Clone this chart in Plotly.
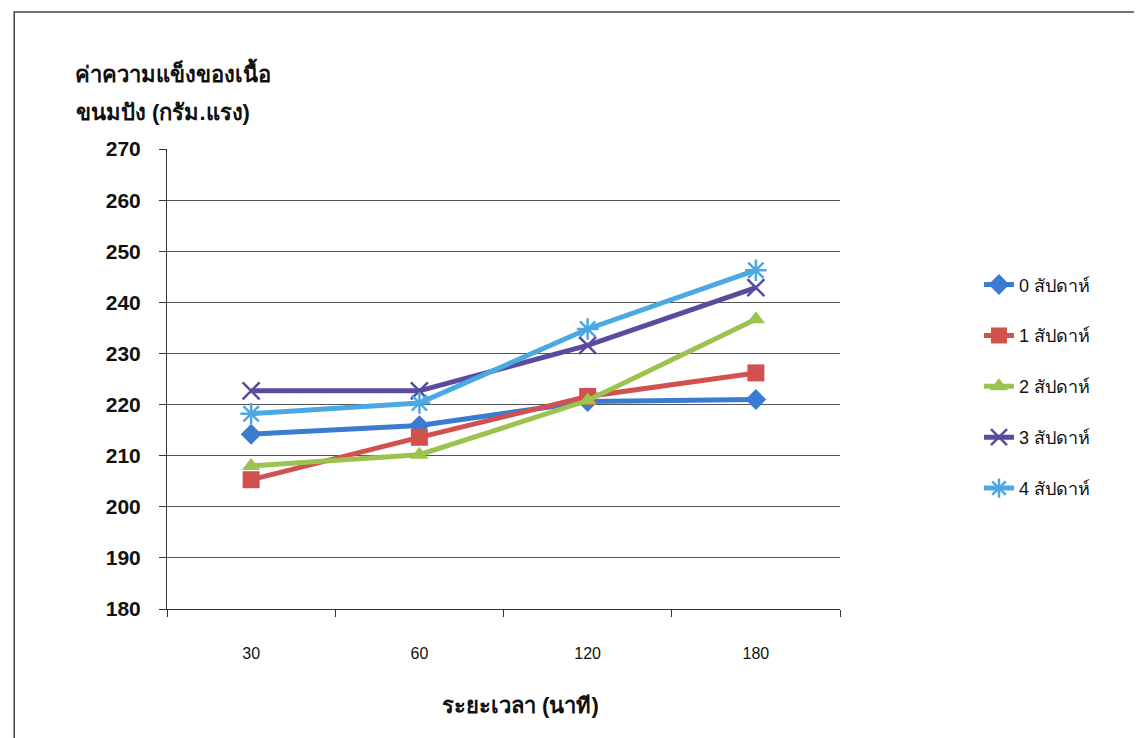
import plotly.graph_objects as go

categories = ["30", "60", "120", "180"]
series_names = ["0 สัปดาห์", "1 สัปดาห์", "2 สัปดาห์", "3 สัปดาห์", "4 สัปดาห์"]
week0 = [214.2, 215.9, 220.6, 221.0]
week1 = [205.3, 213.6, 221.6, 226.2]
week2 = [208.0, 210.2, 220.8, 236.7]
week3 = [222.7, 222.7, 231.6, 242.9]
week4 = [218.2, 220.3, 234.8, 246.3]
y_ticks = [180, 190, 200, 210, 220, 230, 240, 250, 260, 270]
y_tick_labels = [f"<b>{v}</b>" for v in y_ticks]

series_values = [week0, week1, week2, week3, week4]
colors = ["#3b7bd0", "#d2504d", "#9cc24f", "#5b4b9e", "#4aa9e2"]
symbols = ["diamond", "square", "triangle-up", "x-thin-open", "asterisk-open"]
sizes = [16, 17, 16, 17, 18]

FONT = "Liberation Sans, Tahoma, Noto Sans, DejaVu Sans, sans-serif"

fig = go.Figure()
for i, (name, vals) in enumerate(zip(series_names, series_values)):
    marker = dict(symbol=symbols[i], size=sizes[i], color=colors[i])
    if "open" in symbols[i]:
        marker["line"] = dict(color=colors[i], width=2.5)
    fig.add_trace(go.Scatter(
        x=categories, y=vals, name=name, mode="lines+markers",
        line=dict(color=colors[i], width=5),
        marker=marker, legendgroup=name,
    ))

fig.update_layout(
    width=1142, height=738,
    paper_bgcolor="white", plot_bgcolor="white",
    margin=dict(l=159, r=310, t=141, b=137, autoexpand=False),
    font=dict(family=FONT, color="#111111"),
    showlegend=True,
    legend=dict(
        x=1.2065, y=0.745, xanchor="left", yanchor="top",
        font=dict(size=18, family=FONT),
        tracegroupgap=24.5, traceorder="grouped",
    ),
    xaxis=dict(
        type="category", showgrid=False, showline=True, linecolor="#333333", linewidth=1,
        ticks="outside", ticklen=7, tickcolor="#333333", tickson="boundaries",
        tickfont=dict(size=16), ticklabelstandoff=30,
        range=[-0.5, 3.5],
    ),
    yaxis=dict(
        range=[180, 270.02], tickvals=y_ticks, ticktext=y_tick_labels,
        showgrid=True, gridcolor="#555555", gridwidth=1,
        showline=True, linecolor="#333333", linewidth=1, ticks="outside", ticklen=7,
        tickcolor="#333333", tickfont=dict(size=21),
        ticklabelstandoff=14, zeroline=False,
    ),
    annotations=[
        dict(text="<b>ค่าความแข็งของเนื้อ</b>", xref="paper", yref="paper",
             x=0.009, y=1.167, xanchor="center", yanchor="middle", showarrow=False,
             font=dict(size=22)),
        dict(text="<b>ขนมปัง (กรัม.แรง)</b>", xref="paper", yref="paper",
             x=-0.006, y=1.080, xanchor="center", yanchor="middle", showarrow=False,
             font=dict(size=22)),
        dict(text="<b>ระยะเวลา (นาที)</b>", xref="paper", yref="paper",
             x=0.526, y=-0.2087, xanchor="center", yanchor="middle", showarrow=False,
             font=dict(size=22)),
    ],
    shapes=[
        dict(type="rect", xref="paper", yref="paper", x0=-0.227, y0=-0.5, x1=1.6, y1=1.298,
             line=dict(color="#444444", width=1.5), fillcolor="rgba(0,0,0,0)", layer="below"),
    ],
)

fig.write_html("out.html")
